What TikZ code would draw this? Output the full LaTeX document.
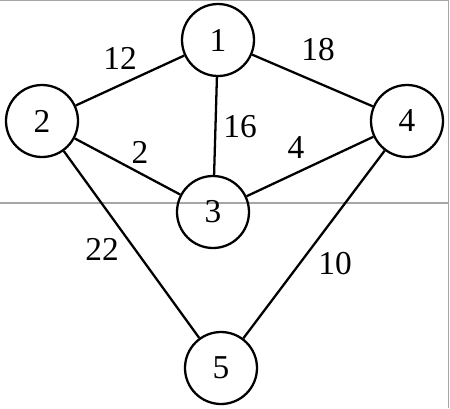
\documentclass[tikz,border=0pt]{standalone}
\usepackage{fontspec}
\setmainfont{Liberation Serif}
\usepackage{tikz}
\tikzstyle{vertex}  = [circle, draw=black, line width=1.3pt, minimum size=1.44cm,
                       inner sep=0pt, font=\fontsize{19}{22}\selectfont]
\tikzstyle{link}    = [line width=1.3pt]
\tikzstyle{weight}  = [inner sep=1pt, font=\fontsize{19}{22}\selectfont]
\tikzstyle{frame}   = [gray!70, line width=0.6pt]

\begin{document}
\begin{tikzpicture}

  \useasboundingbox (0,0) rectangle (9,-8.16);

  % Page lines
  \draw[frame] (0,-0.01) -- (8.97,-0.01) -- (8.97,-8.16);
  \draw[frame] (0,-4.06) -- (8.97,-4.06);

  % Vertices
  \node[vertex] (v1) at (4.36,-0.80) {1};
  \node[vertex] (v2) at (0.84,-2.42) {2};
  \node[vertex] (v3) at (4.26,-4.24) {3};
  \node[vertex] (v4) at (8.14,-2.42) {4};
  \node[vertex] (v5) at (4.42,-7.36) {5};

  % Edges
  \draw[link] (v1) -- (v2);
  \draw[link] (v1) -- (v4);
  \draw[link] (v1) -- (v3);
  \draw[link] (v2) -- (v3);
  \draw[link] (v3) -- (v4);
  \draw[link] (v2) -- (v5);
  \draw[link] (v4) -- (v5);

  % Weights
  \node[weight] (w12) at (2.40,-1.16) {12};
  \node[weight] (w18) at (6.36,-1.00) {18};
  \node[weight] (w16) at (4.80,-2.54) {16};
  \node[weight] (w2)  at (2.80,-3.04) {2};
  \node[weight] (w4)  at (5.92,-2.96) {4};
  \node[weight] (w22) at (2.04,-4.98) {22};
  \node[weight] (w10) at (6.70,-5.28) {10};

\end{tikzpicture}
\end{document}
